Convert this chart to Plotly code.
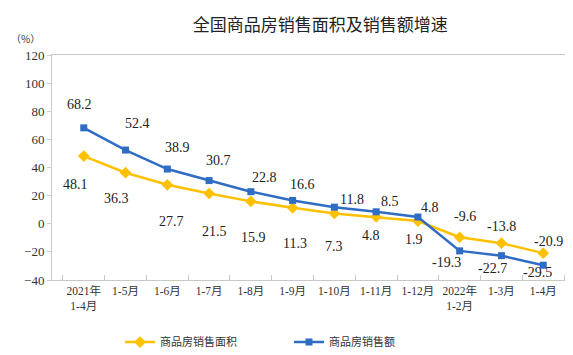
import plotly.graph_objects as go

categories = ["2021年<br>1-4月", "1-5月", "1-6月", "1-7月", "1-8月", "1-9月",
              "1-10月", "1-11月", "1-12月", "2022年<br>1-2月", "1-3月", "1-4月"]
area_growth = [48.1, 36.3, 27.7, 21.5, 15.9, 11.3, 7.3, 4.8, 1.9, -9.6, -13.8, -20.9]
sales_growth = [68.2, 52.4, 38.9, 30.7, 22.8, 16.6, 11.8, 8.5, 4.8, -19.3, -22.7, -29.5]
series_names = ["商品房销售面积", "商品房销售额"]
y_ticks = [-40, -20, 0, 20, 40, 60, 80, 100, 120]

# label offsets in pixels (dx, dy; dy positive = up)
area_offsets = [(-8, -28), (-9, -26), (4, -37), (5, -38), (3, -36), (2, -36),
                (0, -33), (-5, -18), (-4, -18), (5, 21), (0, 17), (5, 12)]
sales_offsets = [(-4, 23), (12, 27), (10, 22), (9, 20), (14, 14), (10, 16),
                 (18, 8), (14, 10), (12, 10), (-13, -12), (-9, -13), (-6, -7)]

YELLOW = "#FFC000"
BLUE = "#2F6CC4"
NUM_FONT = "Liberation Serif"

fig = go.Figure()
fig.add_trace(go.Scatter(
    x=categories, y=area_growth, name=series_names[0], mode="lines+markers",
    line=dict(color=YELLOW, width=2.5),
    marker=dict(symbol="diamond", size=9, color=YELLOW),
))
fig.add_trace(go.Scatter(
    x=categories, y=sales_growth, name=series_names[1], mode="lines+markers",
    line=dict(color=BLUE, width=2.5),
    marker=dict(symbol="square", size=7, color=BLUE),
))

for vals, offs in ((area_growth, area_offsets), (sales_growth, sales_offsets)):
    for c, v, (dx, dy) in zip(categories, vals, offs):
        fig.add_annotation(x=c, y=v, text=f"{v:.1f}", showarrow=False,
                           xshift=dx, yshift=dy,
                           font=dict(family=NUM_FONT, size=14, color="#222"))

fig.add_annotation(xref="paper", yref="paper", x=-0.02, y=1.03, text="（%）",
                   showarrow=False, xanchor="right", yanchor="bottom",
                   font=dict(family="Noto Sans CJK SC", size=10, color="#333"))

fig.update_layout(
    width=573, height=355,
    margin=dict(l=44, r=6, t=47, b=76),
    paper_bgcolor="white", plot_bgcolor="white",
    title=dict(text="全国商品房销售面积及销售额增速", x=0.513, xref="paper",
               xanchor="center", y=0.952, yanchor="middle",
               font=dict(family="Noto Sans CJK SC", size=17, color="#222")),
    showlegend=True,
    legend=dict(orientation="h", x=0.13, xanchor="left", y=-0.276, yanchor="middle",
                font=dict(family="Noto Sans CJK SC", size=11, color="#333"),
                itemwidth=30, entrywidth=124, entrywidthmode="pixels"),
    xaxis=dict(type="category", showgrid=False, showline=True, linecolor="#c8c8c8",
               linewidth=1, mirror=True, ticks="inside", tickson="boundaries",
               ticklen=5, tickcolor="#c8c8c8", tickangle=0,
               tickfont=dict(family="Liberation Serif, Noto Sans CJK SC", size=11.5, color="#333")),
    yaxis=dict(range=[-40, 120], tickvals=y_ticks, showgrid=False, zeroline=False,
               showline=True, linecolor="#c8c8c8", linewidth=1, mirror=True,
               ticks="outside", ticklen=4, tickcolor="#c8c8c8",
               tickfont=dict(family=NUM_FONT, size=13, color="#333")),
)

fig.write_html("out.html")
